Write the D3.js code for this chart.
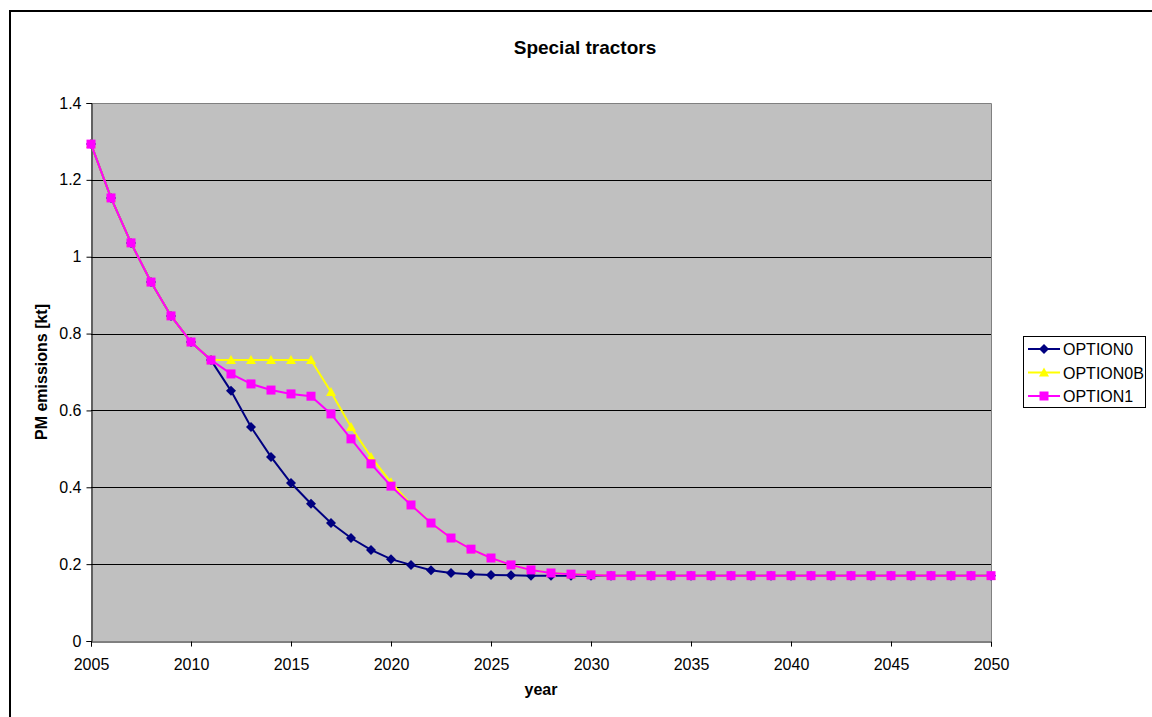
<!DOCTYPE html>
<html>
<head>
<meta charset="utf-8">
<script src="https://cdn.jsdelivr.net/npm/d3@7/dist/d3.min.js"></script>
<style>
  html, body { margin: 0; padding: 0; background: #fff; }
  svg { display: block; font-family: "Liberation Sans", Arial, sans-serif; }
</style>
</head>
<body>
<svg id="chart" width="1152" height="717"></svg>
<script>
// PM emissions of special tractors, 2005-2050, per policy option
const years = d3.range(2005, 2051);

const option0 = [
  1.293, 1.153, 1.036, 0.934, 0.846, 0.778, 0.731,
  0.651, 0.557, 0.479, 0.411, 0.357, 0.307, 0.268, 0.237, 0.213,
  0.198, 0.184, 0.177, 0.174, 0.172, 0.171, 0.170, 0.170, 0.170, 0.170,
  0.170, 0.170, 0.170, 0.170, 0.170, 0.170, 0.170, 0.170, 0.170, 0.170,
  0.170, 0.170, 0.170, 0.170, 0.170, 0.170, 0.170, 0.170, 0.170, 0.170
];

const option0B = [
  1.293, 1.153, 1.036, 0.934, 0.846, 0.778, 0.731,
  0.731, 0.731, 0.731, 0.731, 0.731, 0.648, 0.557, 0.479, 0.413,
  0.355, 0.307, 0.268, 0.239, 0.216, 0.198, 0.185, 0.177, 0.174, 0.172,
  0.170, 0.170, 0.170, 0.170, 0.170, 0.170, 0.170, 0.170, 0.170, 0.170,
  0.170, 0.170, 0.170, 0.170, 0.170, 0.170, 0.170, 0.170, 0.170, 0.170
];

const option1 = [
  1.293, 1.153, 1.036, 0.934, 0.846, 0.778, 0.731,
  0.695, 0.669, 0.653, 0.643, 0.637, 0.591, 0.526, 0.461, 0.403,
  0.354, 0.307, 0.268, 0.239, 0.216, 0.198, 0.185, 0.177, 0.174, 0.172,
  0.170, 0.170, 0.170, 0.170, 0.170, 0.170, 0.170, 0.170, 0.170, 0.170,
  0.170, 0.170, 0.170, 0.170, 0.170, 0.170, 0.170, 0.170, 0.170, 0.170
];

const seriesNames = ["OPTION0", "OPTION0B", "OPTION1"];
const seriesColors = ["#000080", "#FFFF00", "#FF00FF"];
const seriesValues = [option0, option0B, option1];

const xTicks = d3.range(2005, 2051, 5);
const yTicks = [0, 0.2, 0.4, 0.6, 0.8, 1, 1.2, 1.4];

const FONT = "'Liberation Sans', Arial, sans-serif";
const svg = d3.select("#chart");

// outer chart frame
svg.append("rect")
  .attr("x", 10).attr("y", 11)
  .attr("width", 1160).attr("height", 730)
  .attr("fill", "#fff").attr("stroke", "#000").attr("stroke-width", 2);

const plot = { left: 91, top: 103, right: 991, bottom: 641 };

const x = d3.scaleLinear().domain([2005, 2050]).range([plot.left, plot.right]);
const y = d3.scaleLinear().domain([0, 1.4]).range([plot.bottom, plot.top]);

// plot background
svg.append("rect")
  .attr("x", plot.left).attr("y", plot.top)
  .attr("width", plot.right - plot.left).attr("height", plot.bottom - plot.top)
  .attr("fill", "#C0C0C0");

// top and right edges of the plot area
svg.append("path")
  .attr("d", `M${plot.left},${plot.top + 0.5}H${plot.right + 0.5}V${plot.bottom}`)
  .attr("fill", "none").attr("stroke", "#808080").attr("stroke-width", 1);

// horizontal gridlines
svg.append("g")
  .selectAll("line")
  .data(yTicks.filter(v => v > 0 && v < 1.4))
  .join("line")
  .attr("x1", plot.left).attr("x2", plot.right)
  .attr("y1", d => Math.round(y(d)) + 0.5).attr("y2", d => Math.round(y(d)) + 0.5)
  .attr("stroke", "#000").attr("stroke-width", 1);

// axes
const yAxis = d3.axisLeft(y).tickValues(yTicks).tickSize(5).tickPadding(5)
  .tickFormat(d => d3.format("~g")(d));
const gy = svg.append("g").attr("transform", `translate(${plot.left + 0.5},0)`).call(yAxis);
gy.select(".domain").attr("stroke", "#000");
gy.selectAll("text").attr("font-size", 16).attr("fill", "#000").attr("font-family", FONT);

const xAxis = d3.axisBottom(x).tickValues(xTicks).tickSize(5).tickPadding(12)
  .tickFormat(d3.format("d"));
const gx = svg.append("g").attr("transform", `translate(0,${plot.bottom + 0.5})`).call(xAxis);
gx.select(".domain").attr("stroke", "#000");
gx.selectAll("text").attr("font-size", 16).attr("fill", "#000").attr("font-family", FONT);

// titles
svg.append("text")
  .attr("x", 585).attr("y", 54)
  .attr("text-anchor", "middle")
  .attr("font-size", 19).attr("font-weight", "bold")
  .text("Special tractors");

svg.append("text")
  .attr("x", 541).attr("y", 695)
  .attr("text-anchor", "middle")
  .attr("font-size", 16).attr("font-weight", "bold")
  .text("year");

svg.append("text")
  .attr("transform", `translate(47,${(plot.top + plot.bottom) / 2}) rotate(-90)`)
  .attr("text-anchor", "middle")
  .attr("font-size", 16).attr("font-weight", "bold")
  .text("PM emissions [kt]");

// marker shapes per series: square diamond, triangle, square
const diamondPath = (r => `M0,${-r}L${r},0L0,${r}L${-r},0Z`)(5);
const trianglePath = "M0,-5L5,4L-5,4Z";
const squarePath = d3.symbol().type(d3.symbolSquare).size(81)();
const markers = [diamondPath, trianglePath, squarePath];

const line = d3.line().x(d => x(d.year)).y(d => y(d.value));

seriesValues.forEach((vals, i) => {
  const pts = years.map((yr, k) => ({ year: yr, value: vals[k] }));
  const g = svg.append("g");
  g.append("path")
    .datum(pts)
    .attr("d", line)
    .attr("fill", "none")
    .attr("stroke", seriesColors[i])
    .attr("stroke-width", 2);
  g.selectAll("path.mark")
    .data(pts)
    .join("path")
    .attr("class", "mark")
    .attr("d", markers[i])
    .attr("transform", d => `translate(${x(d.year)},${y(d.value)})`)
    .attr("fill", seriesColors[i]);
});

// legend
const legend = svg.append("g");
legend.append("rect")
  .attr("x", 1023.5).attr("y", 336.5)
  .attr("width", 122).attr("height", 71)
  .attr("fill", "#fff").attr("stroke", "#000").attr("stroke-width", 1);

seriesNames.forEach((name, i) => {
  const ly = 349 + i * 23.5;
  legend.append("line")
    .attr("x1", 1028).attr("x2", 1060)
    .attr("y1", ly).attr("y2", ly)
    .attr("stroke", seriesColors[i]).attr("stroke-width", 2);
  legend.append("path")
    .attr("d", markers[i])
    .attr("transform", `translate(1044,${ly})`)
    .attr("fill", seriesColors[i]);
  legend.append("text")
    .attr("x", 1063).attr("y", ly + 6)
    .attr("font-size", 16)
    .text(name);
});
</script>
</body>
</html>
